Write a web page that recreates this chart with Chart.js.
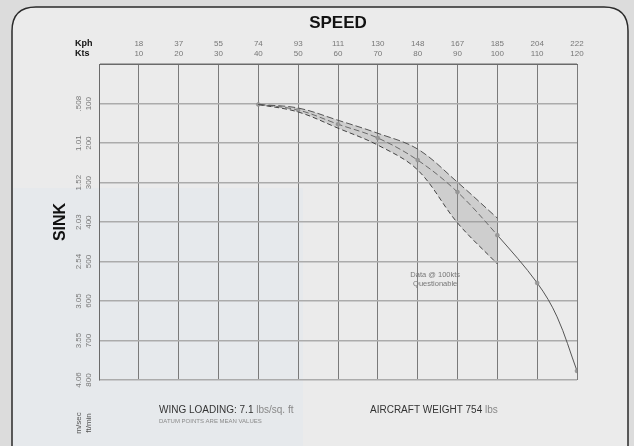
<!DOCTYPE html>
<html>
<head>
<meta charset="utf-8">
<script src="https://cdn.jsdelivr.net/npm/chart.js@4/dist/chart.umd.min.js"></script>
<style>
html, body { margin: 0; padding: 0; background: #e4e4e4; }
canvas { display: block; }
</style>
</head>
<body>
<canvas id="polarChart" width="634" height="446"></canvas>
<script>
// speed ticks (top axis)
var ktsTicks = [10, 20, 30, 40, 50, 60, 70, 80, 90, 100, 110, 120];
var kphTicks = [18, 37, 55, 74, 93, 111, 130, 148, 167, 185, 204, 222];

// sink ticks (left axis)
var sinkFtTicks = [100, 200, 300, 400, 500, 600, 700, 800];
var sinkMsTicks = ['.508', '1.01', '1.52', '2.03', '2.54', '3.05', '3.55', '4.06'];

// polar data (knots, ft/min)
var bandSpeed = [40, 50, 60, 70, 80, 90, 100];
var upperSink = [102, 111, 142, 175, 215, 299, 390];
var lowerSink = [102, 121, 162, 205, 268, 402, 506];
var meanSpeed = [40, 50, 60, 70, 80, 90, 100, 110, 115, 120];
var meanSink = [102, 116, 152, 187, 243, 324, 433, 554, 640, 777];
var meanDots = [1, 1, 1, 1, 1, 1, 1, 1, 0, 1];

var FONT = '"Liberation Sans", Arial, sans-serif';

function toPoints(xs, ys) {
    return xs.map(function (x, i) { return { x: x, y: ys[i] }; });
}

function roundRect(ctx, x, y, w, h, r) {
    ctx.beginPath();
    ctx.moveTo(x + r, y);
    ctx.lineTo(x + w - r, y);
    ctx.quadraticCurveTo(x + w, y, x + w, y + r);
    ctx.lineTo(x + w, y + h);
    ctx.lineTo(x, y + h);
    ctx.lineTo(x, y + r);
    ctx.quadraticCurveTo(x, y, x + r, y);
}

function rotText(ctx, txt, x, y) {
    ctx.save();
    ctx.translate(x, y);
    ctx.rotate(-Math.PI / 2);
    ctx.fillText(txt, 0, 0);
    ctx.restore();
}

var extras = {
    id: 'extras',
    beforeDraw: function (chart) {
        var ctx = chart.ctx;
        ctx.save();
        ctx.fillStyle = '#dcdcdc';
        ctx.fillRect(0, 0, chart.width, chart.height);
        roundRect(ctx, 12, 7, 616, 460, 24);
        ctx.fillStyle = '#ebebeb';
        ctx.fill();
        // faint bluish patch from the scan
        ctx.fillStyle = 'rgba(220,228,240,0.3)';
        ctx.fillRect(13, 188, 290, 258);
        roundRect(ctx, 12, 7, 616, 460, 24);
        ctx.strokeStyle = '#2a2a2a';
        ctx.lineWidth = 1.5;
        ctx.stroke();
        ctx.restore();
    },
    afterDraw: function (chart) {
        var ctx = chart.ctx;
        var xs = chart.scales.x, ys = chart.scales.y;
        ctx.save();
        ctx.textAlign = 'center';
        ctx.textBaseline = 'middle';

        ctx.fillStyle = '#111';
        ctx.font = 'bold 17px ' + FONT;
        ctx.fillText('SPEED', 338, 23);

        ctx.font = 'bold 16px ' + FONT;
        rotText(ctx, 'SINK', 61, 222);

        ctx.textAlign = 'left';
        ctx.font = 'bold 9px ' + FONT;
        ctx.fillText('Kph', 75, 44);
        ctx.fillText('Kts', 75, 54);

        // sink labels, two rotated columns
        ctx.textAlign = 'center';
        ctx.font = '8px ' + FONT;
        ctx.fillStyle = '#7a7a7a';
        sinkFtTicks.forEach(function (v, i) {
            var py = ys.getPixelForValue(v);
            rotText(ctx, sinkMsTicks[i], 79, py);
            rotText(ctx, String(v), 89, py);
        });
        ctx.fillStyle = '#555';
        rotText(ctx, 'm/sec', 79, 423);
        rotText(ctx, 'ft/min', 89, 423);

        // note on the band
        ctx.font = '7.5px ' + FONT;
        ctx.fillStyle = '#777';
        ctx.fillText('Data @ 100kts', xs.getPixelForValue(84.4), ys.getPixelForValue(534));
        ctx.fillText('Questionable', xs.getPixelForValue(84.4), ys.getPixelForValue(557));

        // footer
        ctx.textAlign = 'left';
        ctx.font = '10px ' + FONT;
        ctx.fillStyle = '#333';
        ctx.fillText('WING LOADING: 7.1 ', 159, 410);
        var w1 = ctx.measureText('WING LOADING: 7.1 ').width;
        ctx.fillStyle = '#888';
        ctx.fillText('lbs/sq. ft', 159 + w1, 410);
        ctx.fillStyle = '#333';
        ctx.fillText('AIRCRAFT WEIGHT 754 ', 370, 410);
        var w2 = ctx.measureText('AIRCRAFT WEIGHT 754 ').width;
        ctx.fillStyle = '#888';
        ctx.fillText('lbs', 370 + w2, 410);
        ctx.font = '6px ' + FONT;
        ctx.fillStyle = '#8a8a8a';
        ctx.fillText('DATUM POINTS ARE MEAN VALUES', 159, 421);
        ctx.restore();
    }
};

var ctx1 = document.getElementById('polarChart').getContext('2d');

var polarChart = new Chart(ctx1, {
    type: 'line',
    data: {
        datasets: [{
            label: 'upper',
            data: toPoints(bandSpeed, upperSink),
            borderColor: '#555',
            borderWidth: 1,
            borderDash: [7, 3],
            pointRadius: 0,
            tension: 0.35,
            fill: false
        }, {
            label: 'lower',
            data: toPoints(bandSpeed, lowerSink),
            borderColor: '#444',
            borderWidth: 1,
            borderDash: [5, 3],
            pointRadius: 0,
            tension: 0.35,
            backgroundColor: 'rgba(150,150,150,0.33)',
            fill: '-1'
        }, {
            label: 'mean',
            data: toPoints(meanSpeed, meanSink),
            borderColor: '#555',
            borderWidth: 1,
            segment: {
                borderDash: function (c) { return c.p0.parsed.x < 100 ? [6, 3] : undefined; }
            },
            pointRadius: meanDots.map(function (d) { return d ? 2 : 0; }),
            pointBackgroundColor: '#999',
            pointBorderColor: '#888',
            pointBorderWidth: 0.5,
            tension: 0.35,
            fill: false
        }]
    },
    options: {
        responsive: false,
        animation: false,
        layout: {
            padding: { left: 99, right: 57, top: 33, bottom: 66 }
        },
        plugins: {
            legend: { display: false },
            tooltip: { enabled: false }
        },
        scales: {
            x: {
                type: 'linear',
                position: 'top',
                min: 0,
                max: 120,
                ticks: {
                    stepSize: 10,
                    autoSkip: false,
                    maxRotation: 0,
                    padding: 6,
                    color: '#777',
                    font: { family: FONT, size: 8 },
                    callback: function (v) {
                        var i = ktsTicks.indexOf(v);
                        return i < 0 ? '' : [String(kphTicks[i]), String(ktsTicks[i])];
                    }
                },
                grid: { color: '#7a7a7a', lineWidth: 1, drawTicks: false },
                border: { color: '#6a6a6a', width: 1 }
            },
            y: {
                type: 'linear',
                reverse: true,
                min: 0,
                max: 800,
                ticks: { stepSize: 100, display: false },
                grid: { color: '#ababab', lineWidth: 1.6, drawTicks: false },
                border: { color: '#6a6a6a', width: 1 }
            }
        }
    },
    plugins: [extras]
});
</script>
</body>
</html>
